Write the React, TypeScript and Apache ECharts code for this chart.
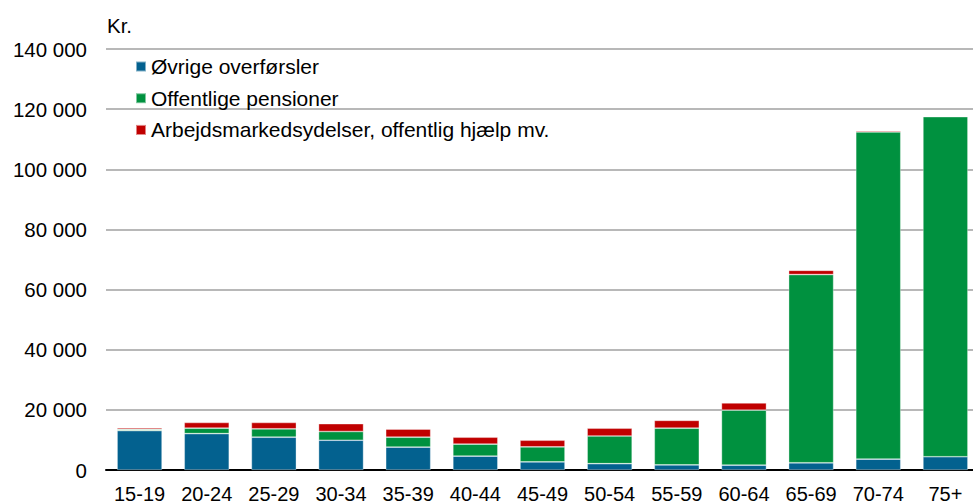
import React, { useEffect, useRef } from "react";
import * as echarts from "echarts";

const categories = ["15-19", "20-24", "25-29", "30-34", "35-39", "40-44", "45-49", "50-54", "55-59", "60-64", "65-69", "70-74", "75+"];
const ovrige = [13100, 12100, 10900, 9900, 7600, 4600, 2700, 2100, 1700, 1600, 2400, 3600, 4400];
const pensioner = [400, 1800, 2800, 2900, 3300, 4000, 5000, 9200, 12200, 18300, 62600, 108800, 113100];
const arbejds = [500, 1900, 2100, 2600, 2700, 2300, 2200, 2600, 2600, 2400, 1400, 400, 200];
const seriesNames = ["Øvrige overførsler", "Offentlige pensioner", "Arbejdsmarkedsydelser, offentlig hjælp mv."];
const colors = ["#03618F", "#00913F", "#C00000"];

export default function App() {
  const ref = useRef<HTMLDivElement>(null);
  useEffect(() => {
    const chart = echarts.init(ref.current!, undefined, { renderer: "svg" });
    const font = "Liberation Sans, Arial, sans-serif";
    const dataSets = [ovrige, pensioner, arbejds];
    chart.setOption({
      animation: false,
      textStyle: { fontFamily: font },
      grid: { left: 106, width: 873, top: 49, bottom: 34, outerBoundsMode: "none", containLabel: false },
      legend: {
        orient: "vertical",
        left: 130,
        top: 51,
        itemWidth: 10,
        itemHeight: 10,
        itemGap: 10.7,
        icon: "rect",
        textStyle: { fontSize: 21, color: "#000", fontFamily: font },
        data: seriesNames,
      },
      graphic: [
        { type: "text", left: 107, top: 15, style: { text: "Kr.", fontSize: 20.5, fill: "#000", fontFamily: font } },
      ],
      xAxis: {
        type: "category",
        data: categories,
        axisLine: { lineStyle: { color: "#000", width: 2 } },
        axisTick: { show: false },
        axisLabel: { fontSize: 20, color: "#000", margin: 14, fontFamily: font, interval: 0 },
      },
      yAxis: {
        type: "value",
        min: 0,
        max: 140000,
        interval: 20000,
        axisLine: { show: false },
        axisTick: { show: false },
        splitLine: { lineStyle: { color: "#A0A0A0", width: 1.5 } },
        axisLabel: {
          fontSize: 20.5,
          color: "#000",
          margin: 19,
          fontFamily: font,
          formatter: (v: number) => v.toLocaleString("en-US").replace(/,/g, " "),
        },
      },
      series: dataSets.map((d, i) => ({
        name: seriesNames[i],
        type: "bar",
        stack: "total",
        data: d,
        barWidth: 45,
        itemStyle: { color: colors[i], borderColor: "rgba(255,255,255,0.5)", borderWidth: 0.7 },
      })),
    });
    return () => chart.dispose();
  }, []);
  return <div ref={ref} style={{ position: "absolute", left: 0, top: 0, width: 973, height: 504 }} />;
}
